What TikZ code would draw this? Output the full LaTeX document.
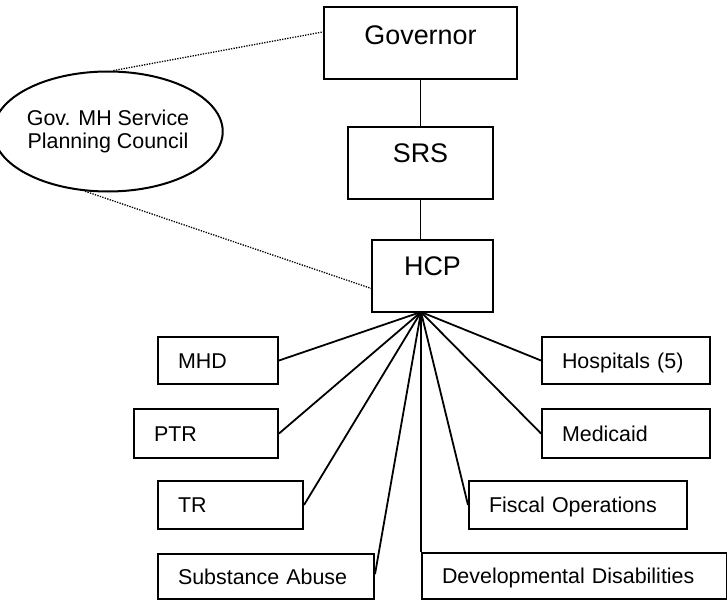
\documentclass[tikz,border=0pt]{standalone}
\usepackage{fontspec}
\setmainfont{Liberation Sans}
\usetikzlibrary{shapes.geometric,calc}
\begin{document}
\begin{tikzpicture}[x=1bp,y=-1bp,
  box/.style={draw,line width=2bp,inner sep=0pt},
  sbox/.style={draw,line width=2bp,inner xsep=20bp,inner ysep=0pt,align=left,
    font=\fontsize{21.5}{25}\selectfont,text height=15.4bp,text depth=0pt,anchor=north west},
  big/.style={font=\fontsize{27}{32}\selectfont,inner sep=0pt},
  conn/.style={line width=1.8bp},
  dotline/.style={line width=1.3bp,dash pattern=on 1.3bp off 1.3bp}]
\useasboundingbox (0,0) rectangle (727,600);
% top chain
\node[box,minimum width=193bp,minimum height=72bp] (gov) at (420.5,43) {};
\node[big] (govt) at (420.5,35) {Governor};
\node[box,minimum width=145bp,minimum height=72bp] (srs) at (420.5,163) {};
\node[big] (srst) at (420.5,153) {SRS};
\node[box,minimum width=121bp,minimum height=72bp] (hcp) at (432.5,276) {};
\node[big] (hcpt) at (432.5,266) {HCP};
% council
\node[draw,ellipse,line width=2bp,minimum width=192bp,minimum height=120bp,inner sep=0pt,
  align=center,font=\fontsize{21.5}{24}\selectfont] (gmh) at (108,131.5) {Gov. MH Service\\Planning Council};
% sub units
\node[sbox,text width=80bp,minimum height=47bp] (mhd) at (157,336) {MHD};
\node[sbox,text width=104bp,minimum height=49bp] (ptr) at (133,408) {PTR};
\node[sbox,text width=105bp,minimum height=48bp] (tr) at (157,480) {TR};
\node[sbox,text width=176bp,minimum height=45bp] (sa) at (157,553) {Substance Abuse};
\node[sbox,text width=128bp,minimum height=47bp] (hosp) at (541,336) {Hospitals (5)};
\node[sbox,text width=128bp,minimum height=49bp] (med) at (541,408) {Medicaid};
\node[sbox,text width=178bp,minimum height=48bp] (fis) at (468,480) {Fiscal Operations};
\node[sbox,text width=265bp,minimum height=46bp] (dd) at (421,552) {Developmental Disabilities};
% connectors
\coordinate (apex) at (421,312);
\draw[conn] (gov.south) -- (srs.north);
\draw[conn] (srs.south) -- (srs.south |- hcp.north);
\draw[conn] (apex) -- (mhd.east);
\draw[conn] (apex) -- (ptr.east);
\draw[conn] (apex) -- (tr.east);
\draw[conn] (apex) -- ($(sa.north east)!0.45!(sa.south east)$);
\draw[conn] (apex) -- (dd.north west);
\draw[conn] (apex) -- (fis.west);
\draw[conn] (apex) -- (med.west);
\draw[conn] (apex) -- (hosp.west);
\draw[dotline] (gmh.85) -- ($(gov.north west)!0.35!(gov.south west)$);
\draw[dotline] (gmh.249) -- ($(hcp.north west)!0.667!(hcp.south west)$);
\end{tikzpicture}
\end{document}
